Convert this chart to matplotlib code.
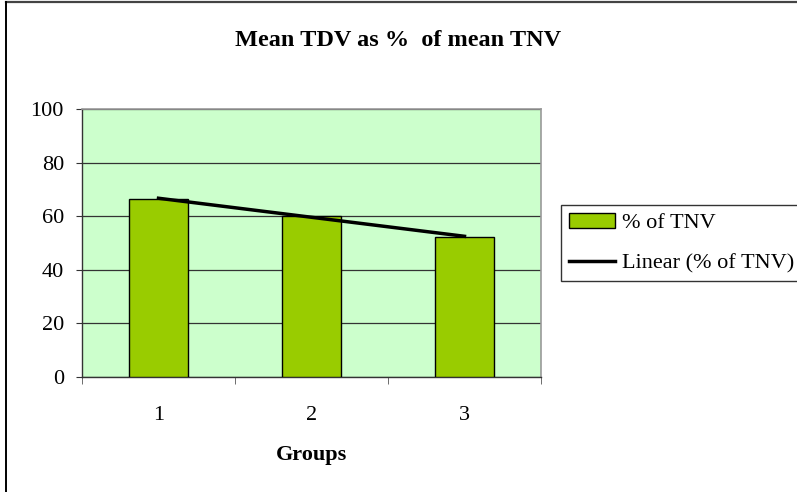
import matplotlib
matplotlib.use("Agg")
import matplotlib.pyplot as plt
import numpy as np
from matplotlib.lines import Line2D

groups = [1, 2, 3]
tick_labels = ["1", "2", "3"]
pct_tnv = [66.4, 60.2, 52.2]

plt.rcParams['font.family'] = ['Liberation Serif', 'DejaVu Serif']

W, H = 797, 492
fig = plt.figure(figsize=(W/100, H/100), dpi=100)
fig.patch.set_facecolor('white')
# chart-area border (top and left only visible)
fig.add_artist(Line2D([6/W, 1], [1-1.5/H, 1-1.5/H], transform=fig.transFigure,
                      color='#444444', linewidth=1.6))
fig.add_artist(Line2D([6/W, 6/W], [0, 1-1.5/H], transform=fig.transFigure,
                      color='black', linewidth=1.4))

l, r, t, b = 82, 541, 109, 377
ax = fig.add_axes([l/W, 1-b/H, (r-l)/W, (b-t)/H])
ax.set_facecolor('#CCFFCC')
x = np.arange(len(groups))
bars = ax.bar(x, pct_tnv, width=0.39, color='#99CC00', edgecolor='black', linewidth=1.0,
              zorder=3, label='% of TNV')
coef = np.polyfit(x, pct_tnv, 1)
trend, = ax.plot(x, np.polyval(coef, x), color='black', linewidth=2.5, zorder=4,
                 label='Linear (% of TNV)')
ax.set_xlim(-0.5, 2.5)
ax.set_ylim(0, 100)
ax.set_yticks([0, 20, 40, 60, 80, 100])
ax.set_xticks(x)
ax.set_xticklabels(tick_labels)
ax.set_xticks([0.5, 1.5, 2.5, -0.5], minor=True)
ax.tick_params(axis='x', which='major', length=0, pad=21, labelsize=16)
ax.tick_params(axis='x', which='minor', length=5, direction='out', color='#555555')
ax.tick_params(axis='y', length=4, direction='out', labelsize=16, pad=9, color='#333333')
ax.grid(axis='y', color='#333333', linewidth=0.9, zorder=1)
ax.set_axisbelow(True)
for s in ['top', 'right']:
    ax.spines[s].set_color('#999999')
    ax.spines[s].set_linewidth(1.2)
for s in ['left', 'bottom']:
    ax.spines[s].set_color('#333333')
    ax.spines[s].set_linewidth(1.0)
ax.set_xlabel('Groups', fontweight='bold', fontsize=16, labelpad=14)
fig.text(0.5, 1-40/H, 'Mean TDV as %  of mean TNV', ha='center', va='center',
         fontsize=17.5, fontweight='bold')

leg = fig.legend(handles=[bars, trend], labels=['% of TNV', 'Linear (% of TNV)'],
                 loc='upper left', bbox_to_anchor=(561/W, 1-205/H), fontsize=16,
                 frameon=True, fancybox=False, edgecolor='#333333', framealpha=1,
                 handlelength=2.1, handleheight=0.65, borderpad=0.35,
                 labelspacing=0.9, handletextpad=0.3, borderaxespad=0)
leg.get_frame().set_linewidth(1.0)

fig.savefig('out.png', dpi=100)
